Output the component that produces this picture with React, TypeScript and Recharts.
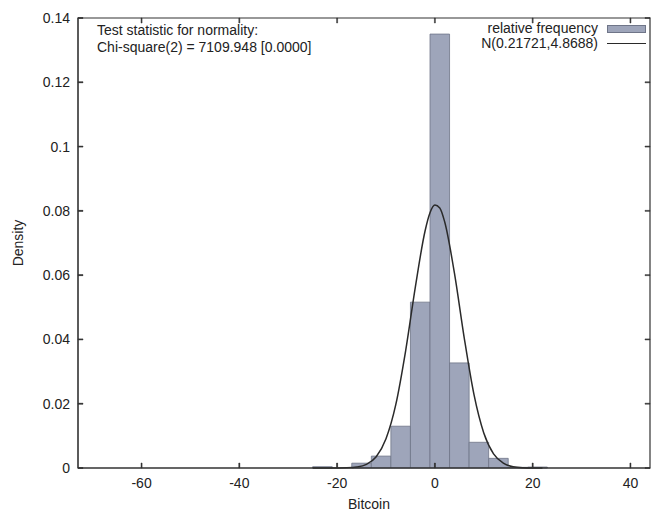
import React from 'react';
import {
  ComposedChart,
  Line,
  XAxis,
  YAxis,
  ReferenceArea,
} from 'recharts';

// histogram bins (left edge), width 4
const binStart = [-25, -21, -17, -13, -9, -5, -1, 3, 7, 11, 15, 19];
const binDensity = [0.0004, 0, 0.0015, 0.0037, 0.013, 0.0516, 0.135, 0.0327, 0.008, 0.003, 0.0002, 0.0003];
const binWidth = 4;

// fitted normal curve
const curveX = [-25, -22, -20, -18, -16, -14, -12, -10, -8, -6, -4, -2, -1, 0, 1, 2, 4, 6, 8, 10, 12, 14, 16, 18, 20, 22];
const curveY = [0, 0, 0.00002, 0.00008, 0.00032, 0.00115, 0.0035, 0.0091, 0.0197, 0.0363, 0.0563, 0.0738, 0.0794, 0.0818, 0.0809, 0.0766, 0.0606, 0.0405, 0.0228, 0.0109, 0.0044, 0.0015, 0.0004, 0.0001, 0.00002, 0];

const xDomain = [-73, 44];
const yDomain = [0, 0.14];
const xTicks = [-60, -40, -20, 0, 20, 40];
const yTicks = [0, 0.02, 0.04, 0.06, 0.08, 0.1, 0.12, 0.14];

const legendLabels = ['relative frequency', 'N(0.21721,4.8688)'];
const testLines = ['Test statistic for normality:', 'Chi-square(2) = 7109.948 [0.0000]'];
const xTitle = 'Bitcoin';
const yTitle = 'Density';

const curveData = curveX.map((x, i) => ({ x, y: curveY[i] }));

const FONT = '"Liberation Sans", Arial, sans-serif';
const TEXT = '#222';
const BAR_FILL = '#9ea5ba';
const BAR_EDGE = '#6f7588';
const FRAME = '#333';

// one pixel, in data units (plot is 572 x 450 px)
const pxX = (xDomain[1] - xDomain[0]) / 572;
const pxY = (yDomain[1] - yDomain[0]) / 450;
const TICK = 5;

// thin filled rectangle in data coordinates (tick marks)
const strip = (key: string, x1: number, x2: number, y1: number, y2: number) => (
  <ReferenceArea key={key} x1={x1} x2={x2} y1={y1} y2={y2} fill={FRAME} fillOpacity={1} stroke={FRAME} strokeWidth={0.5} ifOverflow="visible" />
);

export default function App() {
  const [x0, x1] = xDomain;
  const [y0, y1] = yDomain;
  return (
    <div style={{ position: 'absolute', left: 0, top: 0, width: 658, height: 514, background: '#fff', fontFamily: FONT }}>
      <ComposedChart width={658} height={514} data={curveData} margin={{ top: 18, right: 8, bottom: 0, left: 0 }}>
        <XAxis
          dataKey="x"
          type="number"
          domain={xDomain}
          ticks={xTicks}
          height={46}
          stroke={FRAME}
          tickSize={-5}
          tickMargin={15}
          tick={{ fill: TEXT, fontSize: 14, fontFamily: FONT }}
        />
        <XAxis
          xAxisId="top"
          orientation="top"
          type="number"
          domain={xDomain}
          ticks={xTicks}
          height={0}
          stroke={FRAME}
          tickSize={-5}
          tick={false}
        />
        <YAxis
          type="number"
          domain={yDomain}
          ticks={yTicks}
          width={78}
          stroke={FRAME}
          tickSize={-5}
          tickMargin={13}
          tick={{ fill: TEXT, fontSize: 14, fontFamily: FONT }}
          tickFormatter={(v: number) => String(+v.toFixed(2))}
        />
        <YAxis
          yAxisId="right"
          orientation="right"
          type="number"
          domain={yDomain}
          ticks={yTicks}
          width={0}
          stroke={FRAME}
          tickSize={-5}
          tick={false}
        />

        {/* histogram */}
        {binStart.map((b, i) =>
          binDensity[i] > 0 ? (
            <ReferenceArea
              key={b}
              x1={b}
              x2={b + binWidth}
              y1={0}
              y2={binDensity[i]}
              fill={BAR_FILL}
              fillOpacity={1}
              stroke={BAR_EDGE}
              strokeWidth={0.8}
              ifOverflow="visible"
            />
          ) : null
        )}

        {/* plot frame */}
        <ReferenceArea x1={x0} x2={x1} y1={y0} y2={y1} fill="none" stroke={FRAME} strokeWidth={1.2} ifOverflow="visible" />

        {/* inward ticks on all four sides */}
        {xTicks.map((t) => strip(`b${t}`, t - pxX / 2, t + pxX / 2, y0, y0 + TICK * pxY))}
        {xTicks.map((t) => strip(`t${t}`, t - pxX / 2, t + pxX / 2, y1 - TICK * pxY, y1))}
        {yTicks.map((t) => strip(`l${t}`, x0, x0 + TICK * pxX, t - pxY / 2, t + pxY / 2))}
        {yTicks.map((t) => strip(`r${t}`, x1 - TICK * pxX, x1, t - pxY / 2, t + pxY / 2))}

        <Line
          type="monotone"
          dataKey="y"
          stroke="#2a2a2a"
          strokeWidth={1.5}
          dot={false}
          isAnimationActive={false}
        />
      </ComposedChart>

      {/* normality test note */}
      <div style={{ position: 'absolute', left: 97, top: 22, fontSize: 14, lineHeight: '17px', color: TEXT }}>
        {testLines.map((t) => (
          <div key={t}>{t}</div>
        ))}
      </div>

      {/* legend */}
      <div style={{ position: 'absolute', right: 12, top: 21, fontSize: 14, lineHeight: '15px', color: TEXT }}>
        <div style={{ display: 'flex', alignItems: 'center', justifyContent: 'flex-end', height: 15 }}>
          <span>{legendLabels[0]}</span>
          <span style={{ display: 'inline-block', width: 37, height: 6, marginLeft: 9, background: BAR_FILL, border: `1px solid ${BAR_EDGE}` }} />
        </div>
        <div style={{ display: 'flex', alignItems: 'center', justifyContent: 'flex-end', height: 15 }}>
          <span>{legendLabels[1]}</span>
          <span style={{ display: 'inline-block', width: 39, height: 0, marginLeft: 9, borderTop: '1.5px solid #2a2a2a' }} />
        </div>
      </div>

      {/* axis titles */}
      <div style={{ position: 'absolute', left: 319, width: 100, top: 496, textAlign: 'center', fontSize: 14, lineHeight: '16px', color: TEXT }}>
        {xTitle}
      </div>
      <div
        style={{
          position: 'absolute',
          left: -32,
          top: 235,
          width: 100,
          textAlign: 'center',
          fontSize: 14,
          lineHeight: '16px',
          color: TEXT,
          transform: 'rotate(-90deg)',
        }}
      >
        {yTitle}
      </div>
    </div>
  );
}
